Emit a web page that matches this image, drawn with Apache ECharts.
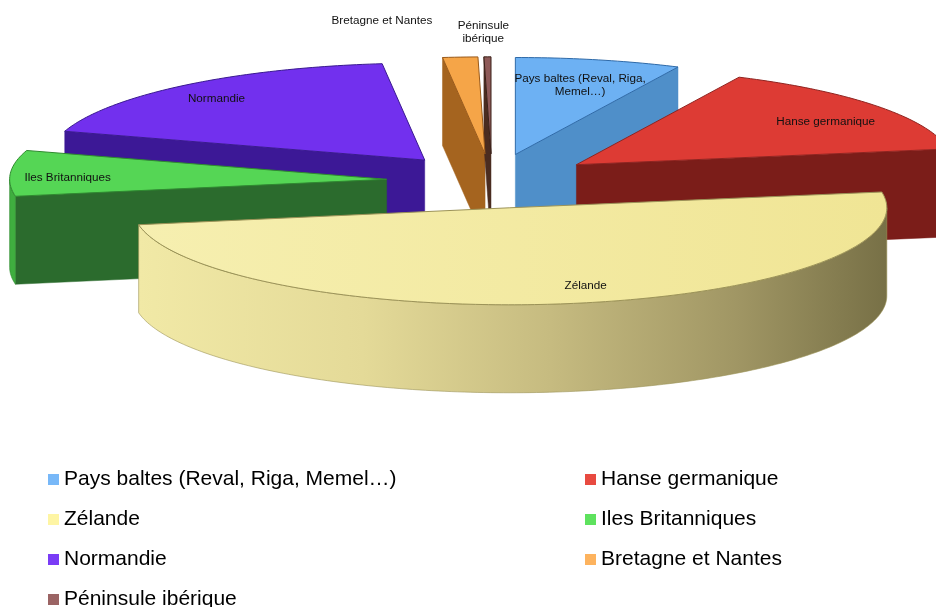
<!DOCTYPE html>
<html>
<head>
<meta charset="utf-8">
<title>Destinations</title>
<script src="https://cdn.jsdelivr.net/npm/echarts/dist/echarts.min.js"></script>
<style>
  html, body { margin: 0; padding: 0; background: #ffffff; }
  #chart { width: 936px; height: 607px; }
</style>
</head>
<body>
<div id="chart"></div>
<script>
// Regions, in the order the slices run clockwise from the back of the pie
const categories = [
  'Pays baltes (Reval, Riga, Memel…)',
  'Hanse germanique',
  'Zélande',
  'Iles Britanniques',
  'Normandie',
  'Bretagne et Nantes',
  'Péninsule ibérique'
];
// Share of each region (%)
const shares = [7.1, 15.3, 49.8, 7.6, 18.4, 1.5, 0.3];
// Text written on (or next to) each slice
const sliceLabels = [
  'Pays baltes (Reval, Riga,\nMemel…)',
  'Hanse germanique',
  'Zélande',
  'Iles Britanniques',
  'Normandie',
  'Bretagne et Nantes',
  'Péninsule\nibérique'
];

// Colours: legend swatch, top face, radial walls, curved wall, outlines
const swatchColors = ['#78b8f8', '#e84a40', '#fef5a4', '#5ee25e', '#7a3cf6', '#fdb35e', '#9b6464'];
const topColors    = ['#6db1f3', '#dd3b34', '#f3ea9c', '#55d655', '#7230ee', '#f5a548', '#8e5a58'];
const wallColors   = ['#4f8fc9', '#7b1d19', '#c9bd82', '#2b6b2d', '#3c1896', '#a5641f', '#4a2c20'];
const rimColors    = ['#4f8fc9', '#7b1d19', '#c9bd82', '#3fae3f', '#3c1896', '#a5641f', '#4a2c20'];
const edgeColors   = ['#2f6aa8', '#8f2420', '#9c9358', '#2f8a2f', '#3a1a90', '#9a5a1a', '#3a2018'];

// Geometry of the tilted, exploded pie (pixels)
const PIE = { cx: 492, cy: 181, rx: 377, ry: 97, depth: 88, explode: 0.28 };
const LABEL = { inside: 0.8, outside: 1.32, font: 'Liberation Sans', size: 11.7 };
// Fine placement of each slice label (thin slices are labelled outside the pie)
const labelPlacement = [
  { dx: -2, dy: 6 },
  { dx: 8, dy: 4 },
  { dx: 25, dy: 2 },
  { dx: -18, dy: 3 },
  { dx: -16, dy: -2 },
  { outside: true, align: 'right', dx: -20, dy: -5 },
  { outside: true, align: 'center', dx: -3, dy: 6 }
];

const total = shares.reduce((s, v) => s + v, 0);

function sliceAngles(i) {
  let start = 0;
  for (let k = 0; k < i; k++) start += shares[k];
  return [start / total * 360, (start + shares[i]) / total * 360];
}

// angle in degrees clockwise from the back, r as a fraction of the radius, dz = drop below the top face
function project(center, deg, r, dz) {
  const t = deg * Math.PI / 180;
  return [center[0] + PIE.rx * r * Math.sin(t), center[1] - PIE.ry * r * Math.cos(t) + dz];
}

function arcPoints(center, from, to, dz) {
  const pts = [];
  const n = Math.max(1, Math.ceil(Math.abs(to - from)));
  for (let k = 0; k <= n; k++) pts.push(project(center, from + (to - from) * k / n, 1, dz));
  return pts;
}

function radialWall(center, deg) {
  return [project(center, deg, 0, 0), project(center, deg, 1, 0),
          project(center, deg, 1, PIE.depth), project(center, deg, 0, PIE.depth)];
}

function makeRenderer(i) {
  return function (params, api) {
    const [a, b] = sliceAngles(i);
    const mid = (a + b) / 2;
    const mr = mid * Math.PI / 180;
    const center = [PIE.cx + PIE.rx * PIE.explode * Math.sin(mr),
                    PIE.cy - PIE.ry * PIE.explode * Math.cos(mr)];
    const rank = Math.round((1 - Math.cos(mr)) * 200) * 10;
    const children = [];

    // radial wall on the start edge faces the viewer when it lies on the left half
    if (Math.sin(a * Math.PI / 180) < -1e-6) {
      children.push({ type: 'polygon', z2: rank + 1, silent: true,
        shape: { points: radialWall(center, a) },
        style: { fill: wallColors[i], stroke: wallColors[i], lineWidth: 0.5 } });
    }
    // radial wall on the end edge faces the viewer when it lies on the right half
    if (Math.sin(b * Math.PI / 180) > 1e-6) {
      children.push({ type: 'polygon', z2: rank + 1, silent: true,
        shape: { points: radialWall(center, b) },
        style: { fill: wallColors[i], stroke: wallColors[i], lineWidth: 0.5 } });
    }
    // curved outer wall, visible across the front half
    const lo = Math.max(a, 90), hi = Math.min(b, 270);
    if (hi > lo) {
      const top = arcPoints(center, lo, hi, 0);
      const bottom = arcPoints(center, lo, hi, PIE.depth).reverse();
      const fill = (i === 2)
        ? new echarts.graphic.LinearGradient(0, 0, 1, 0, [
            { offset: 0, color: '#f1e9a6' },
            { offset: 0.3, color: '#e4da98' },
            { offset: 0.55, color: '#c6bb80' },
            { offset: 0.8, color: '#a09664' },
            { offset: 1, color: '#777046' }])
        : rimColors[i];
      children.push({ type: 'polygon', z2: rank + 2, silent: true,
        shape: { points: top.concat(bottom) },
        style: { fill: fill, stroke: edgeColors[i], lineWidth: 0.6 } });
    }
    // top face
    const topFill = (i === 2)
      ? new echarts.graphic.LinearGradient(0, 0, 1, 0, [
          { offset: 0, color: '#f6efb0' }, { offset: 1, color: '#f0e595' }])
      : topColors[i];
    children.push({ type: 'polygon', z2: rank + 5, silent: true,
      shape: { points: [project(center, a, 0, 0)].concat(arcPoints(center, a, b, 0)) },
      style: { fill: topFill, stroke: edgeColors[i], lineWidth: 1 } });

    // slice label
    const place = labelPlacement[i];
    const pos = project(center, mid, place.outside ? LABEL.outside : LABEL.inside, 0);
    children.push({ type: 'text', z2: 100000, silent: true,
      x: pos[0] + place.dx, y: pos[1] + place.dy,
      style: { text: sliceLabels[i], fill: '#111', fontSize: LABEL.size, fontFamily: LABEL.font,
               align: place.align || 'center', verticalAlign: 'middle', lineHeight: 13 } });

    return { type: 'group', children: children };
  };
}

const series = categories.map((name, i) => ({
  type: 'custom',
  name: name,
  coordinateSystem: 'none',
  itemStyle: { color: swatchColors[i] },
  data: [{ value: shares[i], name: name }],
  renderItem: makeRenderer(i)
}));

const legendBase = {
  orient: 'vertical', top: 469, height: 170, padding: 0,
  itemWidth: 11, itemHeight: 11, itemGap: 19, icon: 'rect',
  selectedMode: false,
  textStyle: { fontSize: 21, fontFamily: 'Liberation Sans', color: '#000' }
};

const chart = echarts.init(document.getElementById('chart'), null, { renderer: 'canvas' });
chart.setOption({
  animation: false,
  backgroundColor: '#ffffff',
  legend: [
    Object.assign({}, legendBase, { left: 48, data: [categories[0], categories[2], categories[4], categories[6]] }),
    Object.assign({}, legendBase, { left: 585, data: [categories[1], categories[3], categories[5]] })
  ],
  series: series
});
</script>
</body>
</html>
